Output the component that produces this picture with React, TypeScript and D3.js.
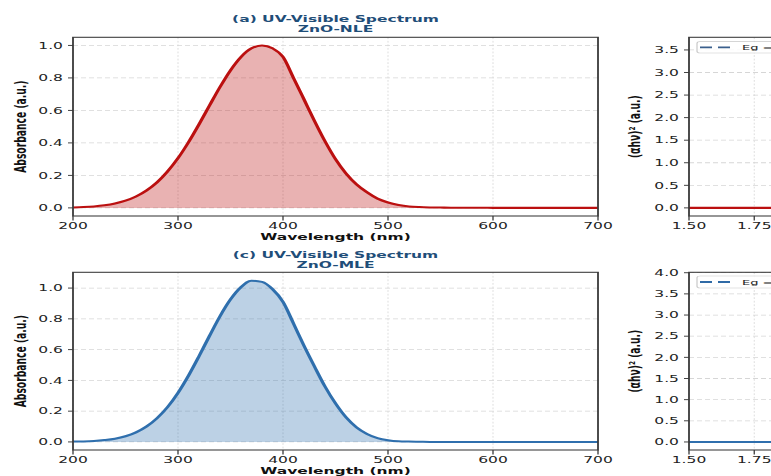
import React from "react";
import * as d3 from "d3";

// The reference figure is compressed vertically; draw in an unsquished
// coordinate system and compress it with a single transform.
const K = 0.593;
const u = (v: number) => v / K;

const FONT = "'DejaVu Sans', 'Liberation Sans', sans-serif";
const FS = 15.5;
const VIEW_W = 771;

const wavelengths = [
  200, 210, 220, 230, 240, 250, 260, 270, 280, 290, 300, 310, 320, 330, 340, 350, 360, 370, 380, 390,
  400, 410, 420, 430, 440, 450, 460, 470, 480, 490, 500, 510, 520, 530, 540, 550, 560, 570, 580, 590,
  600, 610, 620, 630, 640, 650, 660, 670, 680, 690, 700,
];
const absorbanceNLE = [
  0.003, 0.005, 0.009, 0.016, 0.027, 0.044, 0.07, 0.107, 0.157, 0.224,
  0.306, 0.404, 0.514, 0.63, 0.744, 0.847, 0.929, 0.982, 1.0, 0.982,
  0.929, 0.8, 0.668, 0.535, 0.41, 0.3, 0.212, 0.145, 0.096, 0.057,
  0.033, 0.018, 0.009, 0.005, 0.003, 0.002, 0.001, 0.001, 0.001, 0.001,
  0, 0, 0, 0, 0, 0, 0, 0, 0, 0, 0,
];
const absorbanceMLE = [
  0.002, 0.003, 0.006, 0.012, 0.021, 0.037, 0.062, 0.1, 0.154, 0.226,
  0.319, 0.431, 0.557, 0.689, 0.817, 0.926, 1.006, 1.048, 1.04, 0.993,
  0.91, 0.77, 0.625, 0.49, 0.36, 0.25, 0.16, 0.095, 0.052, 0.025,
  0.011, 0.004, 0.002, 0.001, 0, 0, 0, 0, 0, 0,
  0, 0, 0, 0, 0, 0, 0, 0, 0, 0, 0,
];
const wavelengthTicks = [200, 300, 400, 500, 600, 700];
const absorbanceTicks = [0, 0.2, 0.4, 0.6, 0.8, 1.0];

const photonEnergy = [1.5, 1.75, 2.0, 2.25, 2.5, 2.75, 3.0, 3.1, 3.2, 3.3, 3.4, 3.5];
const taucNLE = [0, 0, 0, 0, 0, 0.01, 0.08, 0.3, 0.9, 1.9, 2.9, 3.6];
const taucMLE = [0, 0, 0, 0, 0, 0.01, 0.1, 0.35, 1.0, 2.1, 3.1, 3.82];
const energyTicks = [1.5, 1.75, 2.0, 2.25, 2.5, 2.75, 3.0, 3.25, 3.5];
const taucTicksNLE = [0, 0.5, 1.0, 1.5, 2.0, 2.5, 3.0, 3.5];
const taucTicksMLE = [0, 0.5, 1.0, 1.5, 2.0, 2.5, 3.0, 3.5, 4.0];

const RED = "#bb1010";
const BLUE = "#2f6fad";
const TITLE = "#1f4e79";

type Legend = { label: string; color: string; top: number; bottom: number; base: number; x: number };

type PanelProps = {
  id: string;
  x0: number;
  x1: number;
  top: number;
  bottom: number;
  xDomain: [number, number];
  yDomain: [number, number];
  xTicks: number[];
  xFmt: (v: number) => string;
  yTicks: number[];
  yFmt: (v: number) => string;
  xs: number[];
  ys: number[];
  color: string;
  fillArea: boolean;
  ylabel: string;
  ylabelX: number;
  title?: [string, string];
  titleBase?: [number, number];
  xlabel?: string;
  legend?: Legend;
};

function Panel(p: PanelProps) {
  const xScale = d3.scaleLinear().domain(p.xDomain).range([p.x0, p.x1]);
  const yScale = d3.scaleLinear().domain(p.yDomain).range([u(p.bottom), u(p.top)]);
  const pts = p.xs.map((x, i) => [x, p.ys[i]] as [number, number]);
  const line = d3
    .line<[number, number]>()
    .x((d) => xScale(d[0]))
    .y((d) => yScale(d[1]))
    .curve(d3.curveMonotoneX);
  const area = d3
    .area<[number, number]>()
    .x((d) => xScale(d[0]))
    .y0(yScale(0))
    .y1((d) => yScale(d[1]))
    .curve(d3.curveMonotoneX);
  const yT = u(p.top);
  const yB = u(p.bottom);
  const clip = `clip-${p.id}`;
  const cx = (p.x0 + p.x1) / 2;
  // only label ticks whose label centre lies inside the picture
  const visibleXTicks = p.xTicks.filter((t) => xScale(t) < VIEW_W);
  return (
    <g>
      <defs>
        <clipPath id={clip}>
          <rect x={p.x0} y={yT} width={p.x1 - p.x0} height={yB - yT} />
        </clipPath>
      </defs>
      {/* grid */}
      {p.xTicks.map((t) => (
        <line
          key={"gx" + t}
          x1={xScale(t)}
          x2={xScale(t)}
          y1={yT}
          y2={yB}
          stroke="#cfcfcf"
          strokeWidth={0.9}
          strokeDasharray="3 3"
        />
      ))}
      {p.yTicks.map((t) => (
        <line
          key={"gy" + t}
          x1={p.x0}
          x2={p.x1}
          y1={yScale(t)}
          y2={yScale(t)}
          stroke="#d6d6d6"
          strokeWidth={1.3}
          strokeDasharray="5 3"
        />
      ))}
      <g clipPath={`url(#${clip})`}>
        {p.fillArea && <path d={area(pts) || ""} fill={p.color} fillOpacity={0.32} />}
        <path d={line(pts) || ""} fill="none" stroke={p.color} strokeWidth={3.4} strokeLinejoin="round" />
      </g>
      {/* frame */}
      <rect x={p.x0} y={yT} width={p.x1 - p.x0} height={yB - yT} fill="none" stroke="#3a3a3a" strokeWidth={1.8} />
      {/* x ticks */}
      {p.xTicks.map((t) => (
        <line
          key={"tx" + t}
          x1={xScale(t)}
          x2={xScale(t)}
          y1={yB}
          y2={yB + u(4.5)}
          stroke="#3a3a3a"
          strokeWidth={1.3}
        />
      ))}
      {visibleXTicks.map((t) => (
        <text
          key={"lx" + t}
          x={xScale(t)}
          y={u(p.bottom + 13.3)}
          textAnchor="middle"
          fontFamily={FONT}
          fontSize={FS}
          fill="#222"
        >
          {p.xFmt(t)}
        </text>
      ))}
      {/* y ticks */}
      {p.yTicks.map((t) => (
        <g key={"ty" + t}>
          <line x1={p.x0 - 5} x2={p.x0} y1={yScale(t)} y2={yScale(t)} stroke="#3a3a3a" strokeWidth={1.6} />
          <text
            x={p.x0 - 10}
            y={yScale(t)}
            dy="0.36em"
            textAnchor="end"
            fontFamily={FONT}
            fontSize={FS}
            fill="#222"
          >
            {p.yFmt(t)}
          </text>
        </g>
      ))}
      {/* y label */}
      <text
        transform={`translate(${p.ylabelX},${(yT + yB) / 2}) rotate(-90)`}
        textAnchor="middle"
        fontFamily={FONT}
        fontWeight="bold"
        fontSize={FS}
        fill="#111"
      >
        {p.ylabel}
      </text>
      {p.title && p.titleBase && (
        <g fontFamily={FONT} fontWeight="bold" fontSize={FS} fill={TITLE} textAnchor="middle">
          <text x={cx} y={u(p.titleBase[0])}>
            {p.title[0]}
          </text>
          <text x={cx} y={u(p.titleBase[1])}>
            {p.title[1]}
          </text>
        </g>
      )}
      {p.xlabel && (
        <text
          x={cx}
          y={u(p.bottom + 24.5)}
          textAnchor="middle"
          fontFamily={FONT}
          fontWeight="bold"
          fontSize={FS}
          fill="#111"
        >
          {p.xlabel}
        </text>
      )}
      {p.legend && (
        <g>
          <rect
            x={p.legend.x}
            y={u(p.legend.top)}
            width={150}
            height={u(p.legend.bottom) - u(p.legend.top)}
            rx={3}
            fill="#fff"
            fillOpacity={0.85}
            stroke="#c8c8c8"
            strokeWidth={1.2}
          />
          <line
            x1={p.legend.x + 3}
            x2={p.legend.x + 33}
            y1={(u(p.legend.top) + u(p.legend.bottom)) / 2}
            y2={(u(p.legend.top) + u(p.legend.bottom)) / 2}
            stroke={p.legend.color}
            strokeWidth={3.2}
            strokeDasharray="12 6"
          />
          <text x={p.legend.x + 45} y={u(p.legend.base)} fontFamily={FONT} fontSize={13} fill="#222">
            {p.legend.label}
          </text>
        </g>
      )}
    </g>
  );
}

const f1 = (v: number) => v.toFixed(1);
const f0 = (v: number) => v.toFixed(0);
const f2 = (v: number) => v.toFixed(2);

export default function App() {
  const L0 = 73;
  const L1 = 598;
  const R0 = 689;
  const R1 = 689 + 2 * 261;
  return (
    <svg
      width={VIEW_W}
      height={476}
      style={{ position: "fixed", left: 0, top: 0, display: "block", background: "#fff" }}
    >
      <rect x={0} y={0} width={VIEW_W} height={476} fill="#fff" />
      <g transform={`scale(1,${K})`}>
        <Panel
          id="a"
          x0={L0}
          x1={L1}
          top={37.3}
          bottom={216}
          xDomain={[200, 700]}
          yDomain={[-0.05, 1.05]}
          xTicks={wavelengthTicks}
          xFmt={f0}
          yTicks={absorbanceTicks}
          yFmt={f1}
          xs={wavelengths}
          ys={absorbanceNLE}
          color={RED}
          fillArea={true}
          ylabel="Absorbance (a.u.)"
          ylabelX={26.3}
          title={["(a) UV-Visible Spectrum", "ZnO-NLE"]}
          titleBase={[22.3, 32.3]}
          xlabel="Wavelength (nm)"
        />
        <Panel
          id="b"
          x0={R0}
          x1={R1}
          top={37.3}
          bottom={216}
          xDomain={[1.5, 3.5]}
          yDomain={[-0.18, 3.78]}
          xTicks={energyTicks}
          xFmt={f2}
          yTicks={taucTicksNLE}
          yFmt={f1}
          xs={photonEnergy}
          ys={taucNLE}
          color={RED}
          fillArea={false}
          ylabel="(αhν)² (a.u.)"
          ylabelX={639.7}
          legend={{ label: "Eg = 3.22 eV", color: "#3a5f8c", top: 41.7, bottom: 53, base: 50, x: 697 }}
        />
        <Panel
          id="c"
          x0={L0}
          x1={L1}
          top={272.3}
          bottom={450}
          xDomain={[200, 700]}
          yDomain={[-0.0525, 1.1025]}
          xTicks={wavelengthTicks}
          xFmt={f0}
          yTicks={absorbanceTicks}
          yFmt={f1}
          xs={wavelengths}
          ys={absorbanceMLE}
          color={BLUE}
          fillArea={true}
          ylabel="Absorbance (a.u.)"
          ylabelX={26.3}
          title={["(c) UV-Visible Spectrum", "ZnO-MLE"]}
          titleBase={[258, 268]}
          xlabel="Wavelength (nm)"
        />
        <Panel
          id="d"
          x0={R0}
          x1={R1}
          top={272.3}
          bottom={450}
          xDomain={[1.5, 3.5]}
          yDomain={[-0.19, 4.01]}
          xTicks={energyTicks}
          xFmt={f2}
          yTicks={taucTicksMLE}
          yFmt={f1}
          xs={photonEnergy}
          ys={taucMLE}
          color={BLUE}
          fillArea={false}
          ylabel="(αhν)² (a.u.)"
          ylabelX={639.7}
          legend={{ label: "Eg = 3.25 eV", color: "#2f6aa6", top: 276, bottom: 288, base: 284.8, x: 697 }}
        />
      </g>
    </svg>
  );
}
